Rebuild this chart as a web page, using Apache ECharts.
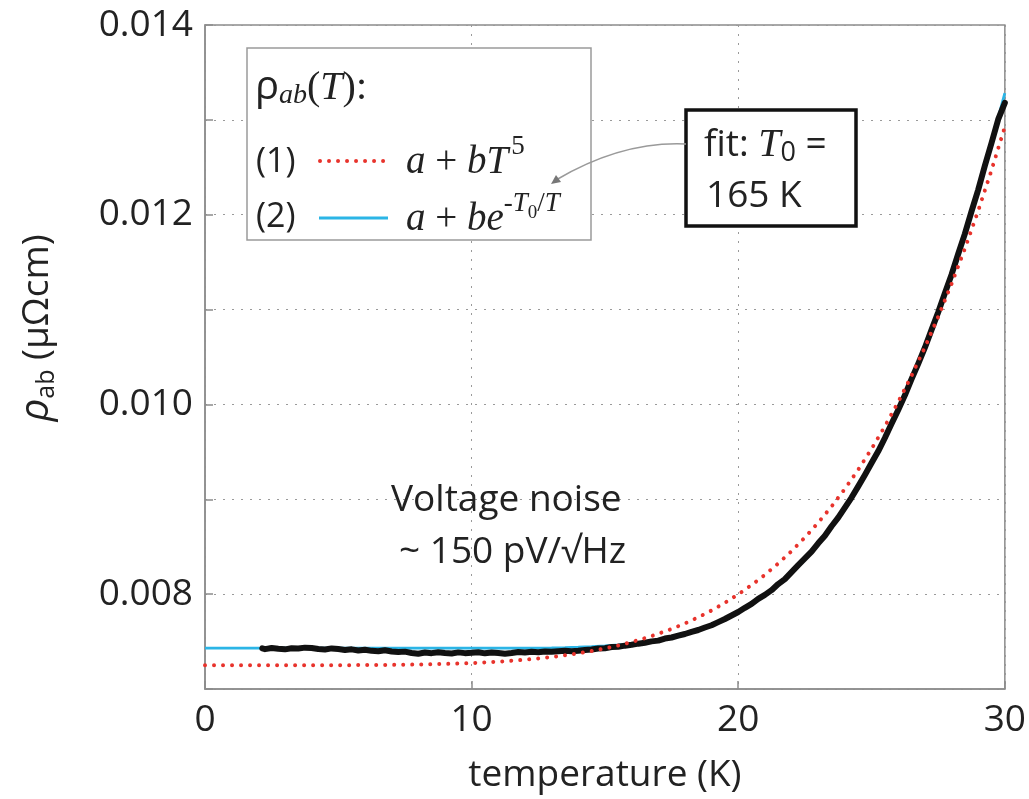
<!DOCTYPE html>
<html><head><meta charset="utf-8">
<script src="https://cdn.jsdelivr.net/npm/echarts@6/dist/echarts.min.js"></script>
<style>html,body{margin:0;padding:0;background:#fff}#c{width:1029px;height:799px}</style>
</head><body><div id="c"></div>
<script>
// measured resistivity (black, noisy)
const dataT = [2.15,2.25,2.5,2.75,3,3.25,3.5,3.75,4,4.25,4.5,4.75,5,5.25,5.5,5.75,6,6.25,6.5,6.75,7,7.25,7.5,7.75,
  8,8.25,8.5,8.75,9,9.25,9.5,9.75,10,10.25,10.5,10.75,11,11.25,11.5,11.75,12,12.25,12.5,12.75,13,13.25,13.5,13.75,
  14,14.25,14.5,14.75,15,15.25,15.5,15.75,16,16.25,16.5,16.75,17,17.25,17.5,17.75,18,18.25,18.5,18.75,
  19,19.25,19.5,19.75,20,20.25,20.5,20.75,21,21.25,21.5,21.75,22,22.25,22.5,22.75,23,23.25,23.5,23.75,
  24,24.25,24.5,24.75,25,25.25,25.5,25.75,26,26.25,26.5,26.75,27,27.25,27.5,27.75,28,28.25,28.5,28.75,
  29,29.25,29.5,29.75,30];
const dataRho = [0.007428,0.007420,0.007432,0.007424,0.007418,0.007430,0.007426,0.007436,0.007433,0.007422,0.007416,0.007428,0.007421,0.007412,0.007418,0.007406,0.007414,0.007402,0.007398,0.007408,0.007396,0.007390,0.007394,0.007380,
  0.007372,0.007384,0.007378,0.007388,0.007380,0.007375,0.007386,0.007378,0.007382,0.007388,0.007376,0.007384,0.007380,0.007372,0.007380,0.007390,0.007384,0.007392,0.007388,0.007396,0.007392,0.007398,0.007402,0.007399,
  0.007404,0.007412,0.007416,0.007426,0.007430,0.007442,0.007446,0.007457,0.007466,0.007478,0.007488,0.007502,0.007510,0.007532,0.007543,0.007562,0.007580,0.007603,0.007622,0.007648,
  0.007672,0.007705,0.007738,0.007775,0.007812,0.007856,0.007897,0.007950,0.007992,0.008042,0.008106,0.008158,0.008232,0.008306,0.008376,0.008448,0.008536,0.008616,0.008716,0.008806,
  0.008912,0.009018,0.009136,0.009256,0.009382,0.009506,0.009646,0.009796,0.009942,0.010096,0.010266,0.010428,0.010598,0.010786,0.010972,0.011172,0.011368,0.011586,0.011798,0.012036,
  0.012262,0.012516,0.012756,0.013004,0.013180];
// fit (2): a + b exp(-T0/T)  (blue)
const fitExpT = [0,1,2,3,4,5,6,7,8,9,10,11,12,13,13.5,14,14.5,15,15.5,16,16.5,17,17.5,18,18.5,19,19.5,20,20.5,21,21.5,22,22.5,23,23.5,24,24.5,25,25.5,26,26.5,27,27.5,28,28.5,29,29.5,30];
const fitExpRho = [0.007430,0.007430,0.007430,0.007430,0.007430,0.007430,0.007430,0.007430,0.007430,0.007430,0.007430,0.007430,0.0074315,0.007434,0.007437,0.007441,0.007446,0.007454,0.007464,0.007478,0.007495,0.007517,0.007545,0.007580,0.007622,0.007672,0.007733,0.007804,0.007888,0.007984,0.008095,0.008222,0.008366,0.008528,0.008708,0.008910,0.009133,0.009378,0.009647,0.009941,0.010261,0.010606,0.010980,0.011381,0.011812,0.012271,0.012762,0.013282];
// fit (1): a + b T^5  (red dotted)
const fitPowT = [0,1,2,3,4,5,6,7,8,9,10,11,12,13,14,14.5,15,15.5,16,16.5,17,17.5,18,18.5,19,19.5,20,20.5,21,21.5,22,22.5,23,23.5,24,24.5,25,25.5,26,26.5,27,27.5,28,28.5,29,29.5,30];
const fitPowRho = [0.007250,0.007250,0.007250,0.007250,0.007250,0.007251,0.007252,0.007254,0.007258,0.007264,0.007273,0.007288,0.007308,0.007337,0.007376,0.007400,0.007427,0.007459,0.007495,0.007536,0.007582,0.007633,0.007691,0.007756,0.007828,0.007909,0.007998,0.008096,0.008204,0.008323,0.008454,0.008597,0.008754,0.008924,0.009110,0.009312,0.009531,0.009769,0.010025,0.010303,0.010602,0.010924,0.011270,0.011642,0.012041,0.012469,0.012926];

const X_MIN = 0, X_MAX = 30, X_STEP = 10;
const Y_MIN = 0.007, Y_MAX = 0.014, Y_STEP = 0.001;

const SANS = '"Open Sans", "Noto Sans", sans-serif';
const SERIF = '"Liberation Serif", "DejaVu Serif", serif';
const TXT = '#222';
const FRAME = '#8c8c8c';
const RED = '#e8332c';
const BLUE = '#2bb5e6';

function zip(a, b) { return a.map((v, i) => [v, b[i]]); }

const chart = echarts.init(document.getElementById('c'), null, {renderer: 'canvas'});

const gridDotted = {show: true, lineStyle: {color: '#9a9a9a', width: 1, type: [2, 7]}};

const mathRich = {
  i: {fontFamily: SERIF, fontStyle: 'italic', fontSize: 39, fill: TXT, lineHeight: 60},
  o: {fontFamily: SERIF, fontSize: 39, fill: TXT, lineHeight: 60},
  u: {fontFamily: SERIF, fontSize: 27, fill: TXT, lineHeight: 32, verticalAlign: 'top', padding: [0, 0, 0, 3]},
  e: {fontFamily: SERIF, fontStyle: 'italic', fontSize: 27, fill: TXT, lineHeight: 34, verticalAlign: 'top'},
  v: {fontFamily: SERIF, fontSize: 27, fill: TXT, lineHeight: 34, verticalAlign: 'top'},
  z: {fontFamily: SERIF, fontSize: 19, fill: TXT, lineHeight: 22, verticalAlign: 'top', padding: [14, 0, 0, 0]}
};

const option = {
  backgroundColor: '#fff',
  animation: false,
  grid: {left: 205, right: 24, top: 25, bottom: 107, show: true, borderColor: FRAME, borderWidth: 1.5, containLabel: false},
  xAxis: {
    type: 'value', min: X_MIN, max: X_MAX, interval: X_STEP,
    axisLine: {show: true, lineStyle: {color: FRAME, width: 1.5}},
    axisTick: {show: true, inside: true, length: 8, lineStyle: {color: FRAME, width: 1.5}},
    axisLabel: {color: TXT, fontFamily: SANS, fontSize: 37, margin: 13},
    splitLine: gridDotted,
    name: 'temperature (K)', nameLocation: 'middle', nameGap: 68,
    nameTextStyle: {color: TXT, fontFamily: SANS, fontSize: 37}
  },
  yAxis: {
    type: 'value', min: Y_MIN, max: Y_MAX, interval: Y_STEP,
    axisLine: {show: true, lineStyle: {color: FRAME, width: 1.5}},
    axisTick: {show: true, inside: true, length: 8, lineStyle: {color: FRAME, width: 1.5}},
    axisLabel: {color: TXT, fontFamily: SANS, fontSize: 37, margin: 12,
      formatter: v => (Math.round(v * 1000) % 2 === 0 ? v.toFixed(3) : '')},
    splitLine: gridDotted
  },
  series: [
    {name: 'fit2', type: 'line', data: zip(fitExpT, fitExpRho), showSymbol: false, symbol: 'none',
      lineStyle: {color: BLUE, width: 2.8}, z: 2},
    {name: 'data', type: 'line', data: zip(dataT, dataRho), showSymbol: false, symbol: 'none',
      lineStyle: {color: '#111', width: 6, join: 'round', cap: 'round'}, z: 3},
    {name: 'fit1', type: 'line', data: zip(fitPowT, fitPowRho), showSymbol: false, symbol: 'none',
      lineStyle: {color: RED, width: 4, type: [0.01, 9], cap: 'round'}, z: 4}
  ],
  graphic: [
    // legend box
    {type: 'rect', shape: {x: 247, y: 48, width: 344, height: 192}, style: {fill: '#fff', stroke: '#9a9a9a', lineWidth: 1.5}, z: 10},
    {type: 'text', x: 255, y: 88, z: 11, style: {
      text: '{r|ρ}{s|ab}{p|(}{i|T}{p|):}', verticalAlign: 'middle',
      rich: {
        r: {fontFamily: SANS, fontSize: 40, fill: TXT, lineHeight: 44},
        s: {fontFamily: SERIF, fontStyle: 'italic', fontSize: 28, fill: TXT, lineHeight: 40, verticalAlign: 'bottom'},
        p: {fontFamily: SERIF, fontSize: 40, fill: TXT, lineHeight: 44},
        i: {fontFamily: SERIF, fontStyle: 'italic', fontSize: 40, fill: TXT, lineHeight: 44}
      }}},
    {type: 'text', x: 256, y: 162, z: 11, style: {text: '(1)', fontFamily: SANS, fontSize: 34, fill: TXT, verticalAlign: 'middle'}},
    {type: 'text', x: 256, y: 217, z: 11, style: {text: '(2)', fontFamily: SANS, fontSize: 34, fill: TXT, verticalAlign: 'middle'}},
    {type: 'line', shape: {x1: 320, y1: 161, x2: 388, y2: 161}, z: 11, style: {stroke: RED, lineWidth: 4, lineDash: [0.01, 9], lineCap: 'round'}},
    {type: 'line', shape: {x1: 319, y1: 218, x2: 388, y2: 218}, z: 11, style: {stroke: BLUE, lineWidth: 2.8}},
    {type: 'text', x: 406, y: 163, z: 11, style: {
      text: '{i|a}{o| + }{i|bT}{u|5}', verticalAlign: 'middle', rich: mathRich}},
    {type: 'text', x: 406, y: 220, z: 11, style: {
      text: '{i|a}{o| + }{i|be}{v|-}{e|T}{z|0}{v|/}{e|T}', verticalAlign: 'middle', rich: mathRich}},
    // fit annotation
    {type: 'rect', shape: {x: 686, y: 110, width: 170, height: 116}, style: {fill: '#fff', stroke: '#111', lineWidth: 3.5}, z: 10},
    {type: 'text', x: 704, y: 145, z: 11, style: {
      text: '{a|fit: }{t|T}{s|0}{a| =}', verticalAlign: 'middle',
      rich: {
        a: {fontFamily: SANS, fontSize: 37, fill: TXT, lineHeight: 44},
        t: {fontFamily: SERIF, fontStyle: 'italic', fontSize: 40, fill: TXT, lineHeight: 44},
        s: {fontFamily: SANS, fontSize: 27, fill: TXT, lineHeight: 34, verticalAlign: 'bottom'}
      }}},
    {type: 'text', x: 706, y: 196, z: 11, style: {text: '165 K', fontFamily: SANS, fontSize: 37, fill: TXT, verticalAlign: 'middle'}},
    // arrow
    {type: 'bezierCurve', shape: {x1: 686, y1: 144, cpx1: 622, cpy1: 141, x2: 556, y2: 180}, z: 11,
      style: {stroke: '#9a9a9a', lineWidth: 1.5, fill: null}},
    {type: 'polygon', shape: {points: [[551, 184], [556, 175], [561, 182]]}, z: 11, style: {fill: '#777'}},
    // noise note
    {type: 'text', x: 391, y: 500, z: 11, style: {text: 'Voltage noise', fontFamily: SANS, fontSize: 37, fill: TXT, verticalAlign: 'middle'}},
    {type: 'text', x: 399, y: 552, z: 11, style: {text: '~ 150 pV/√Hz', fontFamily: SANS, fontSize: 37, fill: TXT, verticalAlign: 'middle'}},
    // y axis name
    {type: 'text', x: 37, y: 328, rotation: Math.PI / 2, z: 11, style: {
      text: '{r|ρ}{s|ab}{a| (μΩcm)}', align: 'center', verticalAlign: 'middle',
      rich: {
        r: {fontFamily: SANS, fontStyle: 'italic', fontSize: 40, fill: TXT, lineHeight: 44},
        s: {fontFamily: SANS, fontSize: 25, fill: TXT, lineHeight: 36, verticalAlign: 'bottom'},
        a: {fontFamily: SANS, fontSize: 37, fill: TXT, lineHeight: 44}
      }}}
  ]
};
chart.setOption(option);
</script>
</body></html>
